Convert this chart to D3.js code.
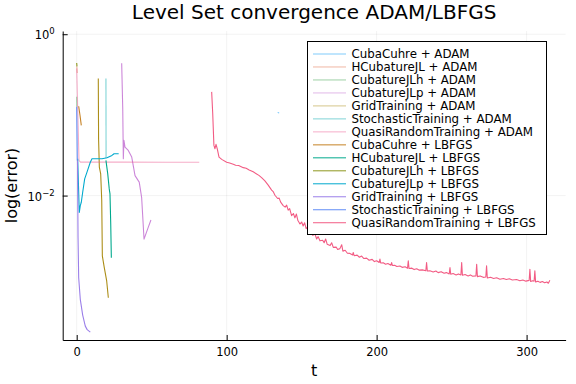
<!DOCTYPE html>
<html>
<head>
<meta charset="utf-8">
<script src="https://cdn.jsdelivr.net/npm/d3@7"></script>
<style>
  body { margin: 0; background: #fff; }
  text { font-family: "DejaVu Sans", sans-serif; fill: #000; }
</style>
</head>
<body>
<div id="chart"></div>
<script>
// series names, in legend order
const names = [
  "CubaCuhre + ADAM", "HCubatureJL + ADAM", "CubatureJLh + ADAM", "CubatureJLp + ADAM",
  "GridTraining + ADAM", "StochasticTraining + ADAM", "QuasiRandomTraining + ADAM",
  "CubaCuhre + LBFGS", "HCubatureJL + LBFGS", "CubatureJLh + LBFGS", "CubatureJLp + LBFGS",
  "GridTraining + LBFGS", "StochasticTraining + LBFGS", "QuasiRandomTraining + LBFGS"
];
const colors = [
  "#009afa", "#e36f47", "#3ea44e", "#c371d2", "#ac8e18", "#00a9ad", "#ed5e93",
  "#c68225", "#00a98d", "#8e971e", "#00a9cd", "#9b7fe9", "#618df6", "#f25c84"
];
const legendAlpha = [0.5, 0.5, 0.5, 0.5, 0.5, 0.5, 0.5, 1, 1, 1, 1, 1, 1, 1];
const lineAlpha   = [0.5, 0.5, 0.5, 0.85, 1, 0.5, 0.5, 1, 1, 1, 1, 1, 1, 1];

// [t, error]
const cubaCuhreAdam = [[134, 0.107], [135, 0.106]];
const hCubatureAdam = [[0.1, 0.40], [0.4, 0.33]];
const cubatureJLhAdam = [[0, 0.168], [0.1, 0.126]];
const cubatureJLpAdam = [[30, 0.436], [30.7, 0.12], [31.1, 0.0286], [31.5, 0.0483], [32.2, 0.0399],
  [34.4, 0.0363], [36.7, 0.030], [38.9, 0.0177], [41.7, 0.0147], [43.3, 0.00952],
  [44.9, 0.00289], [47.7, 0.00403], [49.5, 0.00499]];
const gridAdam = [[14.4, 0.283], [14.6, 0.05], [15.1, 0.0225], [16.0, 0.0186], [16.7, 0.0087],
  [17.1, 0.00179], [18.4, 0.00128], [20, 0.000875], [21.1, 0.000542]];
const stochasticAdam = [[19.5, 0.283], [19.6, 0.029]];
const quasiRandomAdam = [[0, 0.377], [0.87, 0.0858], [1.53, 0.0273], [2.5, 0.026], [30, 0.026],
  [60, 0.0259], [81.7, 0.0259]];
const cubaCuhreLbfgs = [[1.33, 0.128], [2.2, 0.099], [3.07, 0.0743]];
const hCubatureLbfgs = [[19.5, 0.0273], [20.7, 0.0186], [21.7, 0.0121], [22.2, 0.0105],
  [22.7, 0.00445], [23.1, 0.0017]];
const cubatureJLhLbfgs = [[0, 0.44], [0.2, 0.40]];
const cubatureJLpLbfgs = [[0.67, 0.0286], [1.73, 0.00619], [2.4, 0.00752], [3.07, 0.00826],
  [4.0, 0.011], [5.33, 0.0161], [6.87, 0.0195], [9.07, 0.0259], [10.2, 0.0286], [16.9, 0.0286],
  [20.2, 0.0294], [23.5, 0.0315], [24.9, 0.033], [28, 0.033]];
const gridLbfgs = [[0.53, 0.0273], [0.9, 0.003], [1.33, 0.00096], [2.4, 0.000518], [4, 0.00033],
  [5.73, 0.000241], [7, 0.000218], [9.07, 0.000203]];
const stochasticLbfgs = [[0, 0.126], [0.2, 0.06], [0.4, 0.0273]];
const quasiRandomLbfgs = [[90, 0.193], [90.7, 0.104], [91.5, 0.0419], [92.2, 0.0381], [92.9, 0.0431],
  [93.7, 0.0381], [94.9, 0.030], [96.7, 0.0281], [100, 0.0259], [102, 0.0253], [104.4, 0.0245],
  [106, 0.0238], [108, 0.0236], [111.1, 0.0222], [113, 0.0218], [115, 0.0208], [117.7, 0.0197],
  [120, 0.0185], [121.5, 0.0178], [123.3, 0.0167], [125.5, 0.0152], [127.7, 0.0135], [130, 0.0117],
  [131, 0.0112], [132.2, 0.0101], [134, 0.0092], [135, 0.0093], [136, 0.0083], [137.7, 0.00752],
  [139, 0.0072], [140, 0.0076], [141, 0.0066], [142, 0.0069], [143.3, 0.00564], [144.5, 0.0060],
  [145.5, 0.0053], [146.5, 0.0059], [147.5, 0.0049], [148.9, 0.00445], [150, 0.0047], [151, 0.0042],
  [152, 0.0046], [153, 0.0039], [154, 0.0041], [155.5, 0.00334], [156.5, 0.0036], [157.5, 0.0032],
  [158.5, 0.0035], [160, 0.0029], [161, 0.0031], [162.2, 0.00275], [164, 0.0028], [165, 0.0026],
  [166, 0.0029], [167, 0.0025], [169, 0.0024], [170, 0.0026], [171.1, 0.00228], [173, 0.0023],
  [174, 0.00215], [175.5, 0.0022], [176.7, 0.00246], [177.5, 0.00205], [179, 0.0021],
  [180.5, 0.00193], [182.2, 0.00192], [184, 0.00184], [184.4, 0.00197], [185, 0.0018],
  [187, 0.00183], [188.5, 0.00172], [190, 0.00178], [191.5, 0.00166], [193.3, 0.00168],
  [195, 0.00158], [197, 0.00162], [198.5, 0.00152], [200, 0.00156], [201.7, 0.00148],
  [202.2, 0.00163], [202.7, 0.00146], [204.4, 0.00147], [206, 0.00141], [207.5, 0.00144],
  [209.5, 0.00137], [210, 0.00148], [210.5, 0.00136], [212, 0.00137], [213.5, 0.00132],
  [215.5, 0.00134], [217, 0.00129], [219, 0.00131], [220.6, 0.00126], [221.1, 0.00155],
  [221.6, 0.00125], [223.5, 0.00126], [225, 0.00121], [226.7, 0.00124], [228.5, 0.00119],
  [230.5, 0.0012], [232.8, 0.00117], [233.3, 0.00148], [233.8, 0.00116], [235.5, 0.00117],
  [237.7, 0.00113], [239.5, 0.00116], [241, 0.00111], [243, 0.00114], [245, 0.00109],
  [246.5, 0.00111], [248.4, 0.00107], [248.9, 0.00128], [249.4, 0.00106], [251, 0.00108],
  [253, 0.00104], [254.5, 0.00107], [256.2, 0.00104], [256.7, 0.00148], [257.2, 0.00103],
  [259, 0.00105], [261, 0.00101], [262.5, 0.00104], [264, 0.001], [266.2, 0.00101],
  [266.7, 0.00141], [267.2, 0.00099], [269, 0.00101], [271.1, 0.00097], [272.8, 0.00098],
  [273.3, 0.00135], [273.8, 0.00095], [276, 0.00097], [278, 0.00094], [280, 0.00096],
  [282.2, 0.00092], [284.5, 0.00094], [286.5, 0.00091], [288.5, 0.00093], [290.5, 0.0009],
  [293.3, 0.00091], [295.5, 0.00088], [297.5, 0.0009], [299.5, 0.00087], [301.7, 0.00089],
  [302.2, 0.00122], [302.7, 0.00086], [304, 0.00088], [305, 0.00087], [305.5, 0.00117],
  [306, 0.00085], [307.5, 0.00087], [309, 0.00084], [310.5, 0.00086], [312, 0.00083],
  [313.5, 0.00085], [314.5, 0.00082], [315.5, 0.00089]];

const seriesData = [cubaCuhreAdam, hCubatureAdam, cubatureJLhAdam, cubatureJLpAdam, gridAdam,
  stochasticAdam, quasiRandomAdam, cubaCuhreLbfgs, hCubatureLbfgs, cubatureJLhLbfgs,
  cubatureJLpLbfgs, gridLbfgs, stochasticLbfgs, quasiRandomLbfgs];

const xTicks = [0, 100, 200, 300];
const yTicks = [1, 0.01];
const yTickExp = ["0", "\u22122"];

// plot geometry
const W = 576, H = 384;
const plot = {left: 62.7, right: 565.6, top: 31, bottom: 340};

const svg = d3.select("#chart").append("svg")
  .attr("width", W).attr("height", H);

const x = d3.scaleLinear().domain([-9.33, 326]).range([plot.left, plot.right]);
const y = d3.scaleLog().domain([Math.pow(10, -3.79), Math.pow(10, 0.04)]).range([plot.bottom, plot.top]);

// grid
svg.append("g").selectAll("line").data(xTicks).join("line")
  .attr("x1", d => x(d)).attr("x2", d => x(d))
  .attr("y1", plot.top).attr("y2", plot.bottom)
  .attr("stroke", "#000").attr("stroke-opacity", 0.1).attr("stroke-width", 0.5);
svg.append("g").selectAll("line").data(yTicks).join("line")
  .attr("x1", plot.left).attr("x2", plot.right)
  .attr("y1", d => y(d)).attr("y2", d => y(d))
  .attr("stroke", "#000").attr("stroke-opacity", 0.1).attr("stroke-width", 0.5);

svg.append("defs").append("clipPath").attr("id", "clip")
  .append("rect").attr("x", plot.left).attr("y", plot.top)
  .attr("width", plot.right - plot.left).attr("height", plot.bottom - plot.top);

const line = d3.line().x(d => x(d[0])).y(d => y(d[1]));

svg.append("g").attr("clip-path", "url(#clip)")
  .selectAll("path").data(seriesData).join("path")
  .attr("d", d => line(d))
  .attr("fill", "none")
  .attr("stroke", (d, i) => colors[i])
  .attr("stroke-opacity", (d, i) => lineAlpha[i])
  .attr("stroke-width", 1.1)
  .attr("stroke-linejoin", "round");

// axes
const xAxis = svg.append("g")
  .attr("transform", "translate(0," + plot.bottom + ")")
  .call(d3.axisBottom(x).tickValues(xTicks).tickSizeInner(-5).tickSizeOuter(0).tickPadding(8));
xAxis.selectAll("text").style("font-size", "11.5px").style("font-family", "DejaVu Sans");

const yAxis = svg.append("g")
  .attr("transform", "translate(" + plot.left + ",0)")
  .call(d3.axisLeft(y).tickValues(yTicks).tickFormat(() => "").tickSizeInner(-5).tickSizeOuter(0));
[xAxis, yAxis].forEach(a => {
  a.select(".domain").attr("stroke", "#000").attr("stroke-width", 1);
  a.selectAll(".tick line").attr("stroke", "#000");
});

const yLab = svg.append("g").selectAll("text").data(yTicks).join("text")
  .attr("x", plot.left - 8).attr("y", d => y(d) + 5)
  .attr("text-anchor", "end")
  .style("font-size", "11.5px");
yLab.append("tspan").text("10");
yLab.append("tspan").attr("dy", -5).style("font-size", "8.5px").text((d, i) => yTickExp[i]);

// titles
svg.append("text").attr("x", (plot.left + plot.right) / 2).attr("y", 19)
  .attr("text-anchor", "middle").style("font-size", "20px")
  .text("Level Set convergence ADAM/LBFGS");
svg.append("text").attr("x", (plot.left + plot.right) / 2).attr("y", 376)
  .attr("text-anchor", "middle").style("font-size", "16px").text("t");
svg.append("text").attr("transform", "translate(17," + ((plot.top + plot.bottom) / 2) + ") rotate(-90)")
  .attr("text-anchor", "middle").style("font-size", "16px").text("log(error)");

// legend
const leg = svg.append("g");
leg.append("rect").attr("x", 307.5).attr("y", 41.5).attr("width", 239).attr("height", 193)
  .attr("fill", "#fff").attr("stroke", "#000").attr("stroke-width", 1);
const item = leg.selectAll("g.item").data(names).join("g").attr("class", "item")
  .attr("transform", (d, i) => "translate(0," + (54 + i * 12.98) + ")");
item.append("line").attr("x1", 313).attr("x2", 346).attr("y1", 0).attr("y2", 0)
  .attr("stroke", (d, i) => colors[i]).attr("stroke-opacity", (d, i) => legendAlpha[i]);
item.append("text").attr("x", 351.5).attr("y", 4).style("font-size", "11.8px").text(d => d);
</script>
</body>
</html>
